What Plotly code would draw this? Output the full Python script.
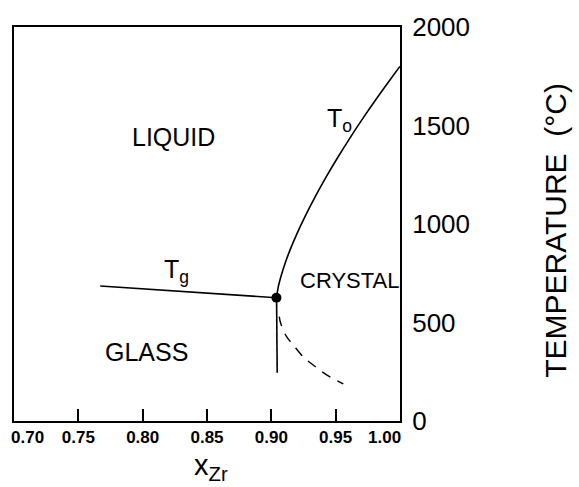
import plotly.graph_objects as go

# Glass transition line T_g
tg_x = [0.767, 0.904]
tg_T = [685, 626]

# T_0 curve
t0_x = [0.9041, 0.9054, 0.9078, 0.9107, 0.9147, 0.9199, 0.9264, 0.9343, 0.9428, 0.9519, 0.9615, 0.9716, 0.9822, 0.9910, 1.000]
t0_T = [626, 680, 740, 800, 870, 950, 1040, 1140, 1240, 1340, 1440, 1540, 1640, 1720, 1800]

# vertical continuation below the point
vert_x = [0.9041, 0.9046]
vert_T = [626, 245]

# dashed metastable extension
dash_x = [0.9062, 0.9073, 0.9119, 0.9171, 0.9248, 0.9326, 0.9430, 0.9560]
dash_T = [530, 496, 428, 386, 326, 284, 234, 188]

# intersection point
pt_x = [0.904]
pt_T = [626]

x_ticks = [0.70, 0.75, 0.80, 0.85, 0.90, 0.95, 1.00]
y_ticks = [0, 500, 1000, 1500, 2000]

FONT = "Liberation Sans, Arial"
line = dict(color="black", width=1.6)
fig = go.Figure()
fig.add_trace(go.Scatter(x=tg_x, y=tg_T, mode="lines", line=line))
fig.add_trace(go.Scatter(x=t0_x, y=t0_T, mode="lines", line=dict(color="black", width=1.6, shape="spline")))
fig.add_trace(go.Scatter(x=vert_x, y=vert_T, mode="lines", line=line))
fig.add_trace(go.Scatter(x=dash_x, y=dash_T, mode="lines",
                         line=dict(color="black", width=1.4, dash="10px,8px", shape="spline")))
fig.add_trace(go.Scatter(x=pt_x, y=pt_T, mode="markers", marker=dict(color="black", size=10)))

lab = dict(family=FONT, size=25, color="black")
anns = [
    dict(x=0.8243, y=1442, text="LIQUID", font=lab),
    dict(x=0.9605, y=711, text="CRYSTAL", font=dict(family=FONT, size=22, color="black")),
    dict(x=0.8026, y=350, text="GLASS", font=lab),
    dict(x=0.826, y=760, text="T<sub>g</sub>", font=lab),
    dict(x=0.953, y=1528, text="T<sub>o</sub>", font=lab),
]
annotations = [dict(a, xref="x", yref="y", showarrow=False) for a in anns]
tickfont = dict(family=FONT, size=17, color="black", weight="bold")
# end tick labels pushed inward, as in the reference
annotations.append(dict(x=x_ticks[0], y=0, xref="x", yref="paper", xanchor="left", yanchor="top",
                        xshift=-5, yshift=-5, showarrow=False, text=f"{x_ticks[0]:.2f}", font=tickfont))
annotations.append(dict(x=x_ticks[-1], y=0, xref="x", yref="paper", xanchor="right", yanchor="top",
                        xshift=3, yshift=-5, showarrow=False, text=f"{x_ticks[-1]:.2f}", font=tickfont))
annotations.append(dict(x=0.853, y=-0.117, xref="x", yref="paper", yanchor="middle", showarrow=False,
                        text="x<sub>Zr</sub>", font=dict(family=FONT, size=29, color="black")))
annotations.append(dict(x=1.404, y=0.485, xref="paper", yref="paper", textangle=-90,
                        xanchor="center", yanchor="middle", showarrow=False,
                        text="TEMPERATURE  (°C)", font=dict(family=FONT, size=30, color="black")))

ticktext = ["" if i in (0, len(x_ticks) - 1) else f"{v:.2f}" for i, v in enumerate(x_ticks)]

fig.update_layout(
    width=579, height=487,
    margin=dict(l=14, r=179, t=27, b=66),
    paper_bgcolor="white", plot_bgcolor="white",
    showlegend=False,
    annotations=annotations,
    xaxis=dict(range=[0.6999, 1.0001], tickvals=x_ticks, ticktext=ticktext,
               ticks="inside", ticklen=12, tickwidth=1.6, tickcolor="black",
               showline=True, linecolor="black", linewidth=2, mirror=True,
               showgrid=False, zeroline=False, tickfont=tickfont),
    yaxis=dict(range=[0, 2000], tickvals=y_ticks, side="right",
               ticks="", showline=True, linecolor="black", linewidth=2, mirror=True,
               showgrid=False, zeroline=False, ticklabelstandoff=5,
               tickfont=dict(family=FONT, size=26, color="black")),
)

fig.write_html("out.html")
